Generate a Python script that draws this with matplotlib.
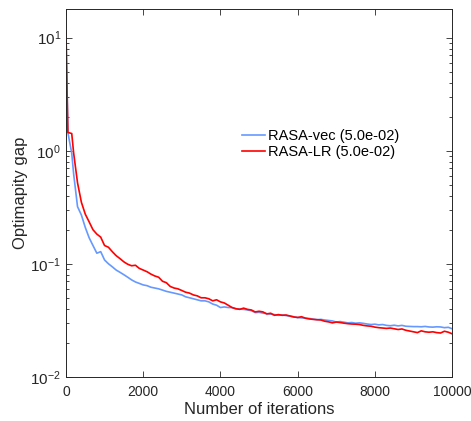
import matplotlib
matplotlib.use("Agg")
import matplotlib.pyplot as plt
from matplotlib.ticker import LogLocator, FixedLocator, NullFormatter

plt.rcParams['font.family'] = ['Liberation Sans', 'DejaVu Sans']
plt.rcParams['mathtext.fontset'] = 'custom'
plt.rcParams['mathtext.rm'] = 'Liberation Sans'
plt.rcParams['mathtext.it'] = 'Liberation Sans'

iterations = [0, 50, 150] + list(range(200, 10001, 100))

rasa_lr = [11.5, 1.45, 1.42, 0.95, 0.52, 0.35, 0.275, 0.235, 0.200, 0.183, 0.172,
           0.145, 0.140, 0.128, 0.118, 0.111, 0.104, 0.099, 0.096, 0.097, 0.091,
           0.088, 0.085, 0.081, 0.078, 0.076, 0.070, 0.068, 0.063, 0.061, 0.060,
           0.058, 0.056, 0.055, 0.053, 0.052, 0.050, 0.050, 0.049, 0.047, 0.048,
           0.046, 0.045, 0.043, 0.041, 0.040, 0.0395, 0.0405, 0.0395, 0.039, 0.0375,
           0.038, 0.0375, 0.036, 0.0365, 0.0350, 0.0355, 0.0350, 0.0352, 0.0345, 0.0338,
           0.0335, 0.0340, 0.0330, 0.0325, 0.0322, 0.0320, 0.0318, 0.0310, 0.0306, 0.0300,
           0.0305, 0.0302, 0.0298, 0.0295, 0.0293, 0.0292, 0.0290, 0.0285, 0.0282, 0.0280,
           0.0275, 0.0272, 0.0270, 0.0268, 0.0270, 0.0266, 0.0262, 0.0265, 0.0258, 0.0254,
           0.0250, 0.0246, 0.0255, 0.0250, 0.0248, 0.0250, 0.0246, 0.0244, 0.0253, 0.0248,
           0.0240]

rasa_vec = [11.5, 1.45, 0.95, 0.62, 0.32, 0.27, 0.21, 0.17, 0.145, 0.124, 0.128,
            0.108, 0.100, 0.094, 0.088, 0.084, 0.080, 0.076, 0.072, 0.069, 0.067,
            0.065, 0.064, 0.062, 0.061, 0.060, 0.0585, 0.057, 0.056, 0.055, 0.054,
            0.053, 0.051, 0.050, 0.049, 0.048, 0.047, 0.047, 0.046, 0.044, 0.043,
            0.041, 0.0415, 0.041, 0.041, 0.040, 0.0398, 0.0395, 0.039, 0.0385, 0.0370,
            0.0372, 0.0366, 0.0362, 0.0358, 0.0355, 0.0350, 0.0352, 0.0348, 0.0344, 0.0340,
            0.0334, 0.0332, 0.0330, 0.0328, 0.0324, 0.0320, 0.0322, 0.0318, 0.0315, 0.0312,
            0.0305, 0.0308, 0.0304, 0.0300, 0.0302, 0.0298, 0.0300, 0.0297, 0.0293, 0.0290,
            0.0292, 0.0288, 0.0290, 0.0285, 0.0283, 0.0286, 0.0282, 0.0285, 0.0280, 0.0279,
            0.0278, 0.0278, 0.0277, 0.0279, 0.0276, 0.0275, 0.0277, 0.0276, 0.0272, 0.0274,
            0.0266]

labels = ["RASA-vec (5.0e-02)", "RASA-LR (5.0e-02)"]
colors = ["#6699FF", "#FF0000"]
x_ticks = [0, 2000, 4000, 6000, 8000, 10000]

fig = plt.figure(figsize=(4.71, 4.21), dpi=100)
ax = fig.add_axes([0.140, 0.105, 0.820, 0.874])
ax.plot(iterations, rasa_vec, color=colors[0], lw=1.2, label=labels[0])
ax.plot(iterations, rasa_lr, color=colors[1], lw=1.2, label=labels[1])
ax.set_yscale('log')
ax.set_xlim(0, 10000)
ax.set_ylim(0.01, 18)
ax.xaxis.set_major_locator(FixedLocator(x_ticks))
ax.set_xticklabels([str(t) for t in x_ticks])
ax.yaxis.set_major_locator(FixedLocator([0.01, 0.1, 1, 10]))
ax.set_yticklabels([r'$10^{-2}$', r'$10^{-1}$', r'$10^{0}$', r'$10^{1}$'])
ax.yaxis.set_minor_locator(LogLocator(base=10, subs=range(2, 10), numticks=20))
ax.yaxis.set_minor_formatter(NullFormatter())
ax.tick_params(which='both', direction='in', top=True, right=True,
               labelsize=11, colors='#262626', width=0.6)
ax.tick_params(axis='x', which='major', pad=6, labelsize=10)
ax.tick_params(which='major', length=4)
ax.tick_params(which='minor', length=2.5)
for s in ax.spines.values():
    s.set_color('#262626')
    s.set_linewidth(0.7)
ax.set_xlabel("Number of iterations", fontsize=12, color='#262626', labelpad=2)
ax.set_ylabel("Optimapity gap", fontsize=12, color='#262626', labelpad=2)
leg = ax.legend(loc='upper left', bbox_to_anchor=(0.44, 0.69), frameon=False,
                fontsize=10.5, handlelength=1.6, handletextpad=0.2,
                labelspacing=0.15, borderaxespad=0)
fig.savefig("out.png", dpi=100)
